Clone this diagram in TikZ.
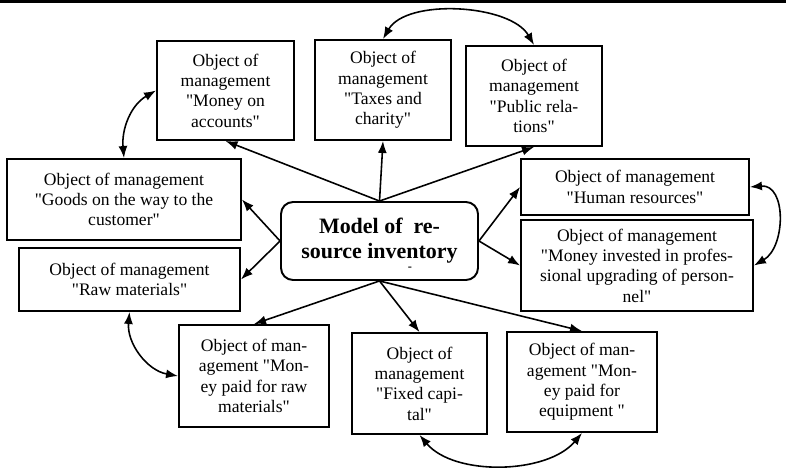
\documentclass[tikz,border=0pt]{standalone}
\usepackage{fontspec}
\setmainfont{Liberation Serif}
\usetikzlibrary{arrows.meta}

\newcommand{\qt}{\textquotedbl}

\tikzset{
  objbox/.style={draw, line width=1.1pt, inner sep=0pt, align=center,
    font=\fontsize{10}{11.6}\selectfont},
  modelbox/.style={draw, line width=1.1pt, inner sep=0pt, align=center,
    rounded corners=0.24cm, font=\fontsize{12.5}{14.2}\selectfont\bfseries},
  link/.style={line width=0.9pt, -{Latex[length=2.4mm,width=1.8mm]}},
  twoway/.style={line width=0.9pt,
    {Latex[length=2.4mm,width=1.8mm]}-{Latex[length=2.4mm,width=1.8mm]}},
}

\begin{document}
\begin{tikzpicture}[x=0.02cm,y=0.02cm]

  % page size (pixel units)
  \useasboundingbox (0,0) rectangle (786,-469);

  % rule at the top
  \draw[line width=1.2pt] (0,-1.5) -- (786,-1.5);

  % centre
  \node[modelbox, minimum width=3.94cm, minimum height=1.56cm] (model) at (379.5,-241)
    {Model of\ \ re-\\source inventory};
  \node[inner sep=0pt, font=\fontsize{7}{7}\selectfont\bfseries] (modeldot) at (410,-269) {-};

  % upper row
  \node[objbox, minimum width=2.74cm, minimum height=1.98cm] (acc) at (225.5,-90.5)
    {Object of\\management\\\qt Money on\\accounts\qt};
  \node[objbox, minimum width=2.72cm, minimum height=2.0cm] (tax) at (383,-90)
    {Object of\\management\\\qt Taxes and\\charity\qt};
  \node[objbox, minimum width=2.72cm, minimum height=2.0cm] (pr) at (534,-96)
    {Object of\\management\\\qt Public rela-\\tions\qt};

  % left side
  \node[objbox, minimum width=4.68cm, minimum height=1.62cm] (goods) at (124,-199.5)
    {Object of management\\\qt Goods on the way to the\\customer\qt};
  \node[objbox, minimum width=4.42cm, minimum height=1.26cm] (raw) at (129.5,-279.5)
    {Object of management\\\qt Raw materials\qt};

  % right side
  \node[objbox, minimum width=4.56cm, minimum height=1.12cm] (hr) at (635,-187)
    {Object of management\\\qt Human resources\qt};
  \node[objbox, minimum width=4.64cm, minimum height=1.82cm] (inv) at (637,-265.5)
    {Object of management\\\qt Money invested in profes-\\sional upgrading of person-\\nel\qt};

  % lower row
  \node[objbox, minimum width=3.0cm, minimum height=2.04cm] (pay) at (254,-376)
    {Object of man-\\agement \qt Mon-\\ey paid for raw\\materials\qt};
  \node[objbox, minimum width=2.7cm, minimum height=2.02cm] (fixed) at (419.5,-383.5)
    {Object of\\management\\\qt Fixed capi-\\tal\qt};
  \node[objbox, minimum width=3.0cm, minimum height=2.0cm] (equip) at (582,-382)
    {Object of man-\\agement \qt Mon-\\ey paid for\\equipment \qt};

  % arrows from the model
  \foreach \t in {acc,tax,pr}
    \draw[link] (model.north) -- (\t.south);
  \foreach \t in {goods,raw}
    \draw[link] (model.west) -- (\t.east);
  \foreach \t in {hr,inv}
    \draw[link] (model.east) -- (\t.west);
  \foreach \t in {pay,fixed,equip}
    \draw[link] (model.south) -- (\t.north);

  % links between objects
  \draw[twoway] (goods.north) to[out=95, in=210] (acc.west);
  \draw[twoway] (tax.north) to[out=60, in=120, looseness=0.8] (pr.north);
  \draw[twoway] (hr.east) to[out=5, in=30, looseness=1.2] (inv.east);
  \draw[twoway] (raw.south) to[out=-95, in=170] (pay.west);
  \draw[twoway] (fixed.south) to[out=-50, in=-130, looseness=0.85] (equip.south);

\end{tikzpicture}
\end{document}
